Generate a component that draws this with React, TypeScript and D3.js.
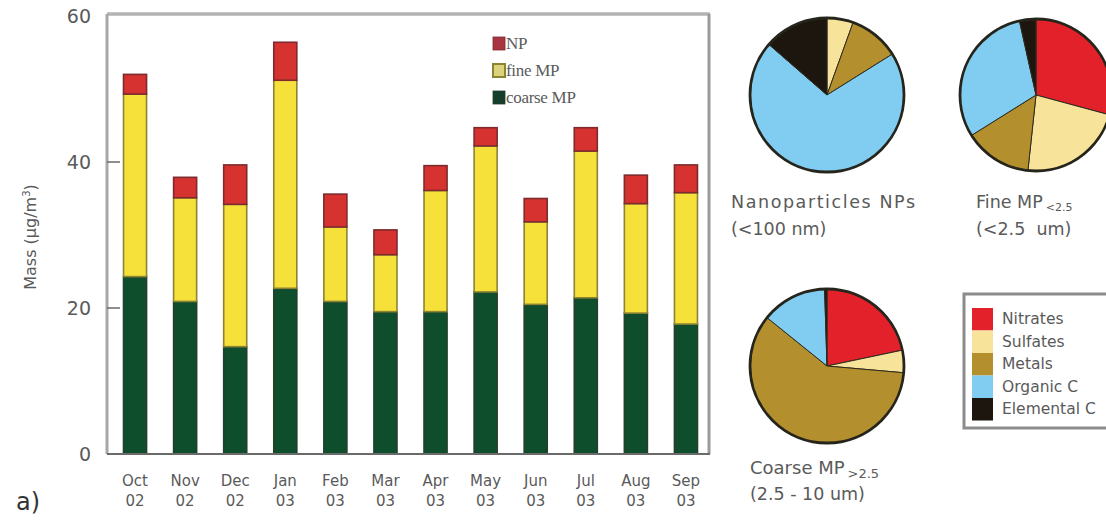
import React from 'react';
import * as d3 from 'd3';

// Monthly PM mass by size fraction (µg/m³)
const months = ['Oct', 'Nov', 'Dec', 'Jan', 'Feb', 'Mar', 'Apr', 'May', 'Jun', 'Jul', 'Aug', 'Sep'];
const years = ['02', '02', '02', '03', '03', '03', '03', '03', '03', '03', '03', '03'];
const coarseMP = [24.3, 20.9, 14.7, 22.7, 20.9, 19.5, 19.5, 22.2, 20.5, 21.4, 19.3, 17.8];
const fineMP = [25.0, 14.2, 19.5, 28.5, 10.2, 7.8, 16.6, 20.0, 11.3, 20.1, 15.0, 18.0];
const nanoP = [2.7, 2.8, 5.4, 5.2, 4.5, 3.4, 3.4, 2.5, 3.2, 3.2, 3.9, 3.8];
const yTicks = [0, 20, 40, 60];

const seriesKeys = ['coarse', 'fine', 'np'];
const seriesLabels = ['coarse MP', 'fine MP', 'NP'];

// Chemical composition of each fraction (% of mass)
const components = ['Nitrates', 'Sulfates', 'Metals', 'Organic C', 'Elemental C'];
const npShares = [0, 5.5, 10.6, 70.3, 13.6];
const fineShares = [29.2, 22.5, 14.4, 30.4, 3.5];
const coarseShares = [21.7, 4.7, 59.4, 13.7, 0.5];

const compColors = ['#e3212a', '#f7e39a', '#b38f2e', '#80cdf1', '#1c160e'];
const barFill: Record<string, string> = { coarse: '#0e4e2c', fine: '#f6e03a', np: '#d6322f' };
const barStroke: Record<string, string> = { coarse: '#243f2c', fine: '#8c8434', np: '#7d2b2e' };
const legendFill: Record<string, string> = { coarse: '#153f2c', fine: '#dcd37a', np: '#a93442' };

const W = 1106;
const H = 520;
const plot = { left: 107, right: 709, top: 14, bottom: 454 };

const sans = 'DejaVu Sans, Verdana, sans-serif';
const serif = 'Liberation Serif, Times New Roman, serif';
const txt = '#5a5a5a';

function Pie({ cx, cy, r, shares }: { cx: number; cy: number; r: number; shares: number[] }) {
  const arcs = d3.pie<number>().sort(null).value((d) => d)(shares);
  const arc = d3.arc<d3.PieArcDatum<number>>().innerRadius(0).outerRadius(r);
  return (
    <g transform={`translate(${cx},${cy})`}>
      {arcs.map((a, i) =>
        a.value > 0 ? (
          <path key={i} d={arc(a) || ''} fill={compColors[i]} stroke="#2e2a1e" strokeWidth={1} />
        ) : null
      )}
      <circle r={r} fill="none" stroke="#26251c" strokeWidth={2.8} />
    </g>
  );
}

export default function App() {
  const x = d3
    .scaleBand<string>()
    .domain(months)
    .range([110, 711])
    .paddingInner(0.54)
    .paddingOuter(0.27);
  const y = d3.scaleLinear().domain([0, 60]).range([plot.bottom, 16]);

  const table = months.map((m, i) => ({ month: m, coarse: coarseMP[i], fine: fineMP[i], np: nanoP[i] }));
  const stacked = d3.stack<any>().keys(seriesKeys)(table);

  return (
    <svg
      width={W}
      height={H}
      style={{ position: 'absolute', left: 0, top: 0, background: '#fff' }}
      viewBox={`0 0 ${W} ${H}`}
    >
      {/* bars */}
      {stacked.map((s) =>
        s.map((d, i) => (
          <rect
            key={s.key + i}
            x={x(months[i])!}
            y={y(d[1])}
            width={x.bandwidth()}
            height={y(d[0]) - y(d[1])}
            fill={barFill[s.key]}
            stroke={barStroke[s.key]}
            strokeWidth={1.6}
          />
        ))
      )}

      {/* frame */}
      <line x1={plot.left} x2={plot.right + 1} y1={plot.top} y2={plot.top} stroke="#b3b3b3" strokeWidth={3.5} />
      <line x1={plot.left} x2={plot.left} y1={plot.top} y2={plot.bottom} stroke="#a8a8a8" strokeWidth={3} />
      <line x1={plot.right} x2={plot.right} y1={plot.top} y2={plot.bottom} stroke="#9a9a9a" strokeWidth={3} />
      <line x1={plot.left} x2={plot.right + 1} y1={plot.bottom} y2={plot.bottom} stroke="#6a6a6a" strokeWidth={2} />

      {/* y ticks */}
      {yTicks.map((t) => (
        <g key={t}>
          {t > 0 && t < 60 && (
            <line x1={plot.left} x2={plot.left + 13} y1={y(t)} y2={y(t)} stroke="#6a6a6a" strokeWidth={1.5} />
          )}
          <text x={91} y={y(t) + 7} textAnchor="end" fontFamily={sans} fontSize={19} fill={txt}>
            {t}
          </text>
        </g>
      ))}

      {/* x labels */}
      {months.map((m, i) => {
        const cx = x(m)! + x.bandwidth() / 2;
        return (
          <g key={m}>
            <text x={cx} y={486} textAnchor="middle" fontFamily={sans} fontSize={15} fill={txt}>
              {m}
            </text>
            <text x={cx} y={506} textAnchor="middle" fontFamily={sans} fontSize={15} fill={txt}>
              {years[i]}
            </text>
          </g>
        );
      })}

      {/* y axis title */}
      <text
        transform="translate(36,237) rotate(-90)"
        textAnchor="middle"
        fontFamily={sans}
        fontSize={16}
        fill={txt}
      >
        Mass (μg/m<tspan dy={-6} fontSize={10}>3</tspan>
        <tspan dy={6}>)</tspan>
      </text>

      <text x={16} y={510} fontFamily={sans} fontSize={24} fill="#333">
        a)
      </text>

      {/* bar legend */}
      {[2, 1, 0].map((k, row) => (
        <g key={k} transform={`translate(493,${37 + row * 27})`}>
          <rect
            width={12}
            height={13}
            fill={legendFill[seriesKeys[k]]}
            stroke={barStroke[seriesKeys[k]]}
            strokeWidth={k === 1 ? 2 : 0.8}
          />
          <text x={13} y={12} fontFamily={serif} fontSize={17} fill={txt} letterSpacing={-0.3}>
            {seriesLabels[k]}
          </text>
        </g>
      ))}

      {/* composition pies */}
      <Pie cx={827} cy={95} r={77} shares={npShares} />
      <Pie cx={1036} cy={95} r={76} shares={fineShares} />
      <Pie cx={827} cy={366} r={77} shares={coarseShares} />

      <text x={731} y={208} fontFamily={sans} fontSize={17.5} fill={txt} textLength={184} lengthAdjust="spacing">
        Nanoparticles NPs
      </text>
      <text x={731} y={235} fontFamily={sans} fontSize={17.5} fill={txt}>
        (&lt;100 nm)
      </text>

      <text x={976} y={208} fontFamily={sans} fontSize={17.5} fill={txt}>
        Fine MP<tspan fontSize={11} dy={3} dx={3}>&lt;2.5</tspan>
      </text>
      <text x={976} y={235} fontFamily={sans} fontSize={17.5} fill={txt}>
        {'(<2.5\u00a0 um)'}
      </text>

      <text x={750} y={474} fontFamily={sans} fontSize={18} fill={txt}>
        Coarse MP<tspan fontSize={13} dy={4} dx={3}>&gt;2.5</tspan>
      </text>
      <text x={750} y={500} fontFamily={sans} fontSize={17.5} fill={txt}>
        (2.5 - 10 um)
      </text>

      {/* composition legend */}
      <rect x={964} y={294} width={170} height={134} fill="#fff" stroke="#8c8c8c" strokeWidth={3} />
      {components.map((c, i) => (
        <g key={c} transform={`translate(972,${308 + i * 22.5})`}>
          <rect width={21} height={22.5} fill={compColors[i]} />
          <text x={30} y={16} fontFamily={sans} fontSize={15.5} fill={txt}>
            {c}
          </text>
        </g>
      ))}
    </svg>
  );
}
